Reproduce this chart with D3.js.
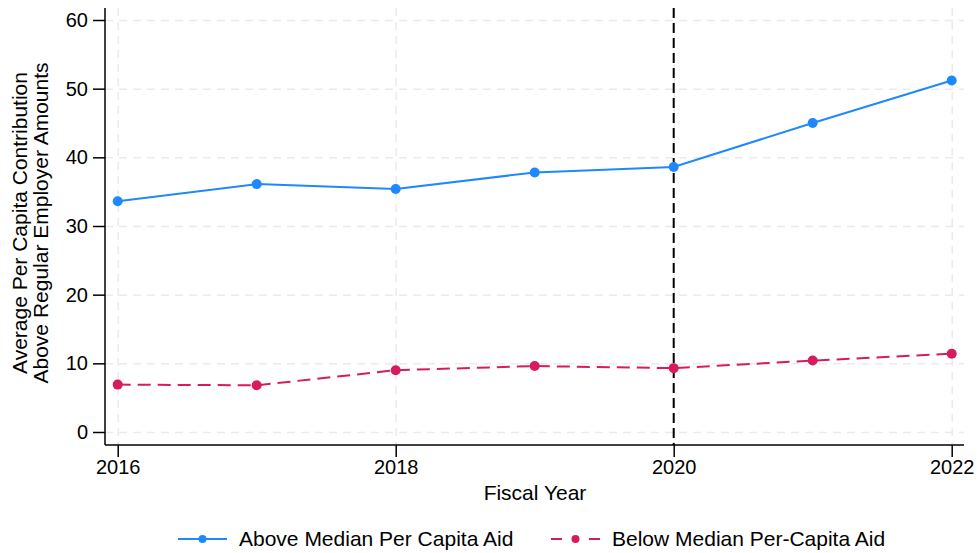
<!DOCTYPE html>
<html>
<head>
  <meta charset="utf-8">
  <script src="https://d3js.org/d3.v7.min.js"></script>
  <style>
    body { margin: 0; background: #fff; }
    text { font-family: "Liberation Sans", Arial, sans-serif; fill: #000; }
    .gridlines line { stroke: #ebebeb; stroke-dasharray: 8,6; stroke-width: 1.5; }
    .gridlines .domain { stroke: none; }
  </style>
</head>
<body>
  <svg id="chart" width="977" height="553"></svg>
  <script>
    const years = [2016, 2017, 2018, 2019, 2020, 2021, 2022];
    const aboveMedian = [33.6, 36.1, 35.4, 37.8, 38.6, 45.0, 51.2];
    const belowMedian = [6.9, 6.8, 9.0, 9.6, 9.3, 10.4, 11.4];
    const xTicks = [2016, 2018, 2020, 2022];
    const yTicks = [0, 10, 20, 30, 40, 50, 60];
    const cutoffYear = 2020;

    const svg = d3.select("svg#chart");
    const margin = { top: 8, right: 13, bottom: 108, left: 105 };
    const width = +svg.attr("width");
    const height = +svg.attr("height");
    const chartWidth = width - margin.left - margin.right;
    const chartHeight = height - margin.top - margin.bottom;

    const xScale = d3.scaleLinear().domain([2016, 2022]).range([12.7, 846.7]);
    const yScale = d3.scaleLinear().domain([0, 60]).range([424, 12]);

    const chartArea = svg.append("g")
      .attr("transform", "translate(" + margin.left + "," + margin.top + ")");

    // gridlines
    chartArea.append("g")
      .attr("class", "gridlines")
      .call(d3.axisLeft(yScale).tickValues(yTicks).tickSize(-chartWidth).tickFormat(""));
    chartArea.append("g")
      .attr("class", "gridlines")
      .call(d3.axisBottom(xScale).tickValues(xTicks).tickSize(chartHeight).tickFormat(""));

    // axes
    const leftAxis = chartArea.append("g")
      .call(d3.axisLeft(yScale).tickValues(yTicks).tickSize(12).tickPadding(5).tickSizeOuter(0));
    leftAxis.select(".domain").attr("d", "M0,0V" + chartHeight).attr("stroke", "#000").attr("stroke-width", 1.5);
    leftAxis.selectAll("text").style("font-size", "20px");
    leftAxis.selectAll(".tick line").attr("stroke-width", 1.5);

    const bottomAxis = chartArea.append("g")
      .attr("transform", "translate(0," + chartHeight + ")")
      .call(d3.axisBottom(xScale).tickValues(xTicks).tickFormat(d3.format("d")).tickSize(12).tickPadding(3).tickSizeOuter(0));
    bottomAxis.select(".domain").attr("d", "M0,0H" + chartWidth).attr("stroke", "#000").attr("stroke-width", 1.5);
    bottomAxis.selectAll("text").style("font-size", "20px");
    bottomAxis.selectAll(".tick line").attr("stroke-width", 1.5);

    // cutoff line
    chartArea.append("line")
      .attr("x1", xScale(cutoffYear)).attr("x2", xScale(cutoffYear))
      .attr("y1", 0).attr("y2", chartHeight)
      .attr("stroke", "#000").attr("stroke-width", 2)
      .attr("stroke-dasharray", "10,5");

    const series = [
      { name: "Above Median Per Capita Aid", values: aboveMedian, color: "#1E88FF", dash: null },
      { name: "Below Median Per-Capita Aid", values: belowMedian, color: "#D81B5E", dash: "13,7" }
    ];

    const line = d3.line().x(d => xScale(d.year)).y(d => yScale(d.value));

    series.forEach(s => {
      const pts = years.map((y, i) => ({ year: y, value: s.values[i] }));
      chartArea.append("path")
        .datum(pts)
        .attr("d", line)
        .attr("fill", "none")
        .attr("stroke", s.color)
        .attr("stroke-width", 2)
        .attr("stroke-dasharray", s.dash);
      chartArea.selectAll(null).data(pts)
        .join("circle")
        .attr("cx", d => xScale(d.year))
        .attr("cy", d => yScale(d.value))
        .attr("r", 5)
        .attr("fill", s.color);
    });

    // axis titles
    svg.append("text")
      .attr("x", 535).attr("y", 500)
      .attr("text-anchor", "middle")
      .style("font-size", "21px")
      .text("Fiscal Year");

    const yTitle = svg.append("text")
      .attr("transform", "translate(27,223) rotate(-90)")
      .attr("text-anchor", "middle")
      .style("font-size", "21px");
    yTitle.append("tspan").attr("x", 0).attr("dy", 0).text("Average Per Capita Contribution");
    yTitle.append("tspan").attr("x", 0).attr("dy", 21).text("Above Regular Employer Amounts");

    // legend
    const legendX = [178, 551];
    series.forEach((s, i) => {
      const g = svg.append("g").attr("transform", "translate(" + legendX[i] + ",539)");
      g.append("line")
        .attr("x1", 0).attr("x2", 49).attr("y1", 0).attr("y2", 0)
        .attr("stroke", s.color).attr("stroke-width", 2)
        .attr("stroke-dasharray", s.dash ? "11,27" : null);
      g.append("circle").attr("cx", 24.5).attr("cy", 0).attr("r", 4).attr("fill", s.color);
      g.append("text")
        .attr("x", 61).attr("y", 0).attr("dy", "0.35em")
        .style("font-size", "21px")
        .text(s.name);
    });
  </script>
</body>
</html>
